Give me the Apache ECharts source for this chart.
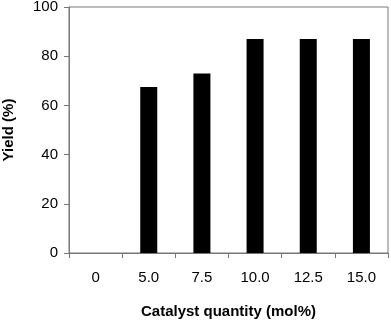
<!DOCTYPE html>
<html>
<head>
<meta charset="utf-8">
<script src="https://cdn.jsdelivr.net/npm/echarts@6/dist/echarts.min.js"></script>
<style>
  html, body { margin: 0; padding: 0; background: #fff; }
  #chart { width: 391px; height: 321px; }
</style>
</head>
<body>
<div id="chart"></div>
<script>
const categories = ['0', '5.0', '7.5', '10.0', '12.5', '15.0']
const yieldValues = [0, 67.5, 73, 87, 87, 87]
const yTicks = { min: 0, max: 100, interval: 20 }

const chart = echarts.init(document.getElementById('chart'))
chart.setOption({
  animation: false,
  textStyle: { fontFamily: 'Liberation Sans, Arial, sans-serif' },
  grid: {
    left: 69,
    top: 7,
    right: 3,
    bottom: 68,
    outerBoundsMode: 'none',
    show: true,
    borderColor: '#777',
    borderWidth: 1
  },
  xAxis: {
    type: 'category',
    data: categories,
    name: 'Catalyst quantity (mol%)',
    nameLocation: 'middle',
    nameGap: 51,
    nameTextStyle: { fontSize: 15, fontWeight: 'bold', color: '#000' },
    axisLine: { lineStyle: { color: '#777', width: 1 } },
    axisTick: { show: true, length: 5, lineStyle: { color: '#777' } },
    axisLabel: { fontSize: 15, color: '#000', margin: 17 },
    splitLine: { show: false }
  },
  yAxis: {
    type: 'value',
    min: yTicks.min,
    max: yTicks.max,
    interval: yTicks.interval,
    name: 'Yield (%)',
    nameLocation: 'middle',
    nameGap: 53,
    nameTextStyle: { fontSize: 15, fontWeight: 'bold', color: '#000' },
    axisLine: { show: true, lineStyle: { color: '#777', width: 1 } },
    axisTick: { show: true, length: 5, lineStyle: { color: '#777' } },
    axisLabel: { fontSize: 15, color: '#000', margin: 11 },
    splitLine: { show: false }
  },
  series: [
    {
      type: 'bar',
      data: yieldValues,
      barWidth: 17,
      itemStyle: { color: '#000' }
    }
  ]
})
</script>
</body>
</html>
